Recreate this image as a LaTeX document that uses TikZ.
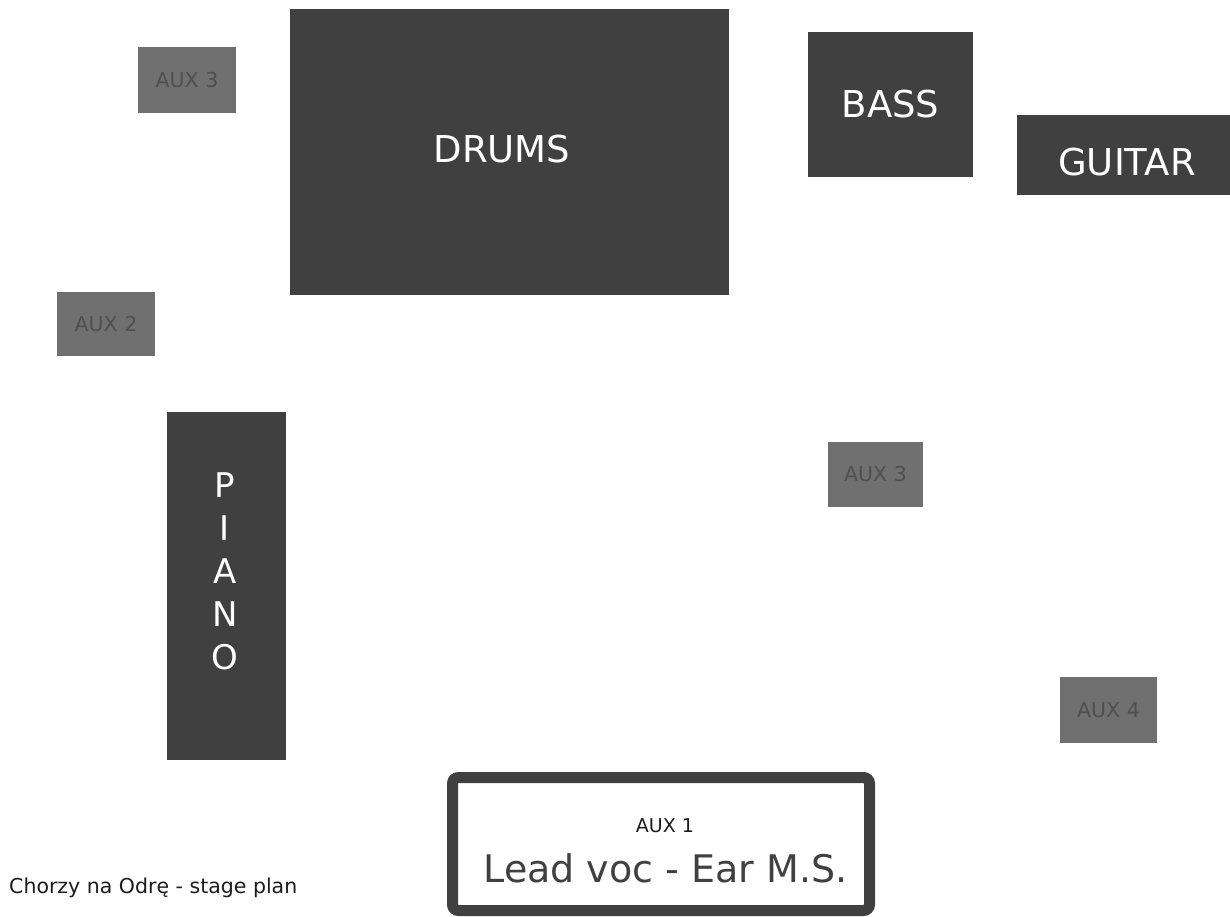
\documentclass[tikz,border=0pt]{standalone}
\usepackage{fontspec}
\setmainfont{DejaVu Sans}
\definecolor{stagegray}{HTML}{404040}
\definecolor{auxgray}{HTML}{707070}
\definecolor{auxtext}{HTML}{4F4F4F}
\definecolor{inkgray}{HTML}{1C1C1C}

\begin{document}
\begin{tikzpicture}[x=1pt,y=-1pt,
        stage/.style={fill=stagegray,text=white,inner sep=0pt,font=\fontsize{37}{44}\selectfont},
        aux/.style={fill=auxgray,text=auxtext,inner sep=0pt,font=\fontsize{20.5}{24}\selectfont}]
            \useasboundingbox (0,0) rectangle (1230,917);

            \node[stage,minimum width=439pt,minimum height=286pt] (drums) at (509.5,152) {};
            \node[stage] (drumstext) at (502,149) {DRUMS};
            \node[stage,minimum width=165pt,minimum height=145pt] (bass) at (890.5,104.5) {BASS};
            \node[stage,minimum width=221pt,minimum height=80pt] (guitar) at (1127.5,155) {};
            \node[stage] (guitartext) at (1127,162) {GUITAR};
            \node[stage,minimum width=119pt,minimum height=348pt] (piano) at (226.5,586) {};
            \node[stage,align=center,font=\fontsize{34}{43}\selectfont] (pianotext) at (225,571) {P\\I\\A\\N\\O};

            \node[aux,minimum width=98pt,minimum height=66pt] (auxthreeleft) at (187,80) {AUX 3};
            \node[aux,minimum width=98pt,minimum height=64pt] (auxtwo) at (106,324) {AUX 2};
            \node[aux,minimum width=95pt,minimum height=65pt] (auxthreeright) at (875.5,474.5) {AUX 3};
            \node[aux,minimum width=97pt,minimum height=66pt] (auxfour) at (1108.5,710) {AUX 4};

            \node[draw=stagegray,fill=white,line width=11pt,rounded corners=6pt,
                  minimum width=417pt,minimum height=133pt] (leadbox) at (661,844) {};
            \node[anchor=base,inner sep=0pt,text=inkgray,font=\fontsize{19}{23}\selectfont] (auxone) at (665,832) {AUX 1};
            \node[anchor=base,inner sep=0pt,text=stagegray,font=\fontsize{38}{45}\selectfont] (leadvoc) at (665.5,882) {Lead voc - Ear M.S.};

            \node[anchor=base west,inner sep=0pt,text=inkgray,font=\fontsize{20.5}{24}\selectfont] (title) at (9,893) {Chorzy na Odrę - stage plan};
        \end{tikzpicture}
\end{document}
